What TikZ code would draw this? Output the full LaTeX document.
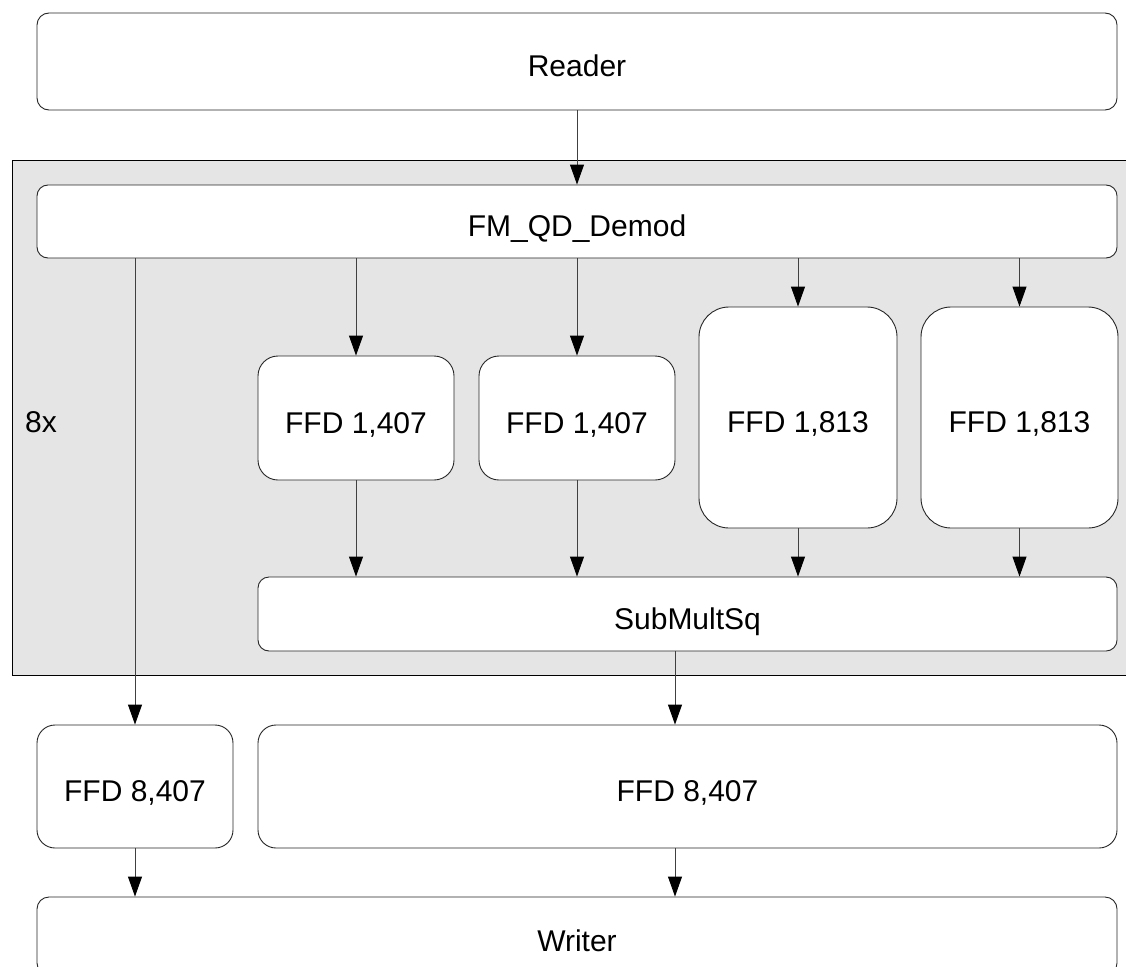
\documentclass[tikz,border=0pt]{standalone}
\usepackage{fontspec}
\setmainfont{Liberation Sans}
\usetikzlibrary{arrows.meta}
\begin{document}
\begin{tikzpicture}[x=1pt,y=-1pt,
  blk/.style={draw=black!85, fill=white, line width=0.9pt, inner sep=0pt,
    font=\fontsize{30}{36}\selectfont, text height=30pt, text depth=0pt},
  group/.style={draw=black, fill=black!10, line width=1pt, inner sep=0pt},
  flow/.style={draw=black!75, line width=0.9pt,
    -{Triangle[length=20pt,width=14pt,color=black,fill=black]}},
  lbl/.style={inner sep=0pt, font=\fontsize{30}{36}\selectfont},
]
\useasboundingbox (0,0) rectangle (1126,966);
\fill[white] (0,0) rectangle (1126,966);

% replicated section
\node[group, minimum width=1124pt, minimum height=515pt] (rep) at (574,417.5) {};
\node[lbl, anchor=base west] (times) at (25,432) {8x};

% blocks
\node[blk, rounded corners=12pt, minimum width=1080pt, minimum height=97pt] (reader) at (577,61.5) {Reader};
\node[blk, rounded corners=11pt, minimum width=1080pt, minimum height=73pt] (fm) at (577,221.5) {FM\_QD\_Demod};
\node[blk, rounded corners=20pt, minimum width=196pt, minimum height=124pt] (f1) at (356,418) {FFD 1,407};
\node[blk, rounded corners=20pt, minimum width=196pt, minimum height=124pt] (f2) at (577,418) {FFD 1,407};
\node[blk, rounded corners=30pt, minimum width=198pt, minimum height=221pt] (f3) at (798,417.5) {FFD 1,813};
\node[blk, rounded corners=30pt, minimum width=197pt, minimum height=221pt] (f4) at (1019.5,417.5) {FFD 1,813};
\node[blk, rounded corners=11pt, minimum width=859pt, minimum height=74pt] (sub) at (687.5,614) {SubMultSq};
\node[blk, rounded corners=18pt, minimum width=196pt, minimum height=123pt] (lf) at (135,786.5) {FFD 8,407};
\node[blk, rounded corners=18pt, minimum width=859pt, minimum height=123pt] (rf) at (687.5,786.5) {FFD 8,407};
\node[blk, rounded corners=12pt, minimum width=1080pt, minimum height=78pt] (writer) at (577,936) {Writer};

% connectors
\draw[flow] (reader.south) -- (fm.north);
\draw[flow] (fm.south -| lf.north) -- (lf.north);
\foreach \b in {f1,f2,f3,f4}{
  \draw[flow] (fm.south -| \b.north) -- (\b.north);
  \draw[flow] (\b.south) -- (\b.south |- sub.north);
}
\draw[flow] ([xshift=-12.5pt]sub.south) -- ([xshift=-12.5pt]rf.north);
\draw[flow] (lf.south) -- (lf.south |- writer.north);
\draw[flow] ([xshift=-12.5pt]rf.south) -- ([xshift=-12.5pt]rf.south |- writer.north);
\end{tikzpicture}
\end{document}
